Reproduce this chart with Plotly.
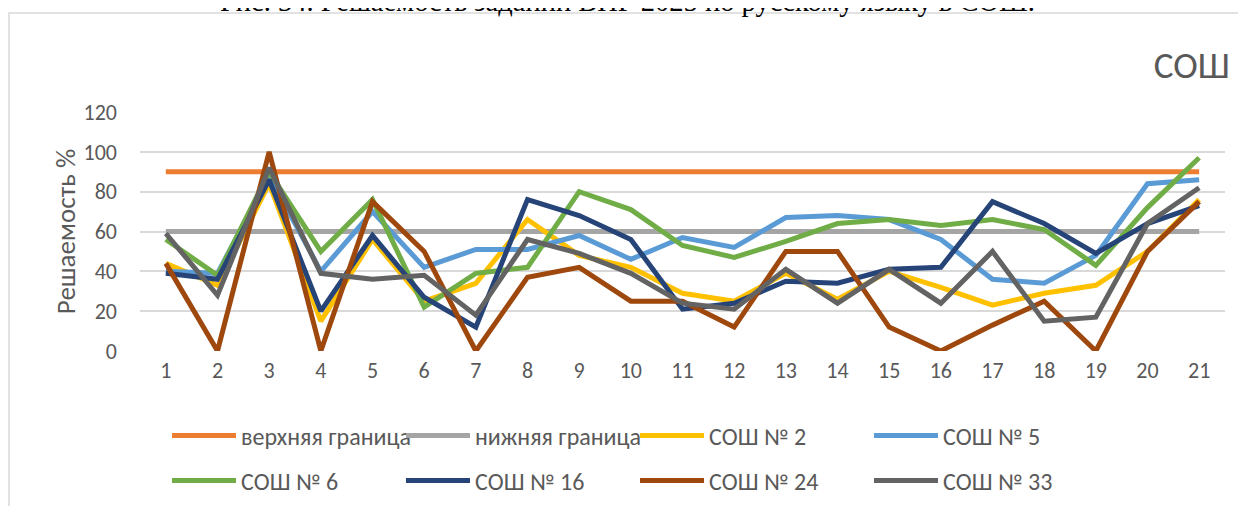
import plotly.graph_objects as go

tasks = [str(i) for i in range(1, 22)]

upper = [90, 90, 90, 90, 90, 90, 90, 90, 90, 90, 90, 90, 90, 90, 90, 90, 90, 90, 90, 90, 90]
lower = [60, 60, 60, 60, 60, 60, 60, 60, 60, 60, 60, 60, 60, 60, 60, 60, 60, 60, 60, 60, 60]
sosh2 = [44, 33, 84, 15, 56, 25, 34, 66, 48, 42, 29, 25, 39, 26, 40, 32, 23, 29, 33, 50, 76]
sosh5 = [40, 39, 88, 40, 70, 42, 51, 51, 58, 46, 57, 52, 67, 68, 66, 56, 36, 34, 48, 84, 86]
sosh6 = [56, 38, 90, 50, 76, 22, 39, 42, 80, 71, 53, 47, 55, 64, 66, 63, 66, 61, 43, 72, 97]
sosh16 = [39, 36, 86, 20, 58, 27, 12, 76, 68, 56, 21, 24, 35, 34, 41, 42, 75, 64, 49, 64, 73]
sosh24 = [44, 0, 100, 0, 75, 50, 0, 37, 42, 25, 25, 12, 50, 50, 12, 0, 13, 25, 0, 50, 75]
sosh33 = [59, 28, 92, 39, 36, 38, 18, 56, 49, 39, 24, 21, 41, 24, 41, 24, 50, 15, 17, 64, 82]

series = [
    ("верхняя граница", upper, "#ED7D31", "legend"),
    ("нижняя граница", lower, "#A5A5A5", "legend"),
    ("СОШ № 2", sosh2, "#FFC000", "legend"),
    ("СОШ № 5", sosh5, "#5B9BD5", "legend"),
    ("СОШ № 6", sosh6, "#70AD47", "legend2"),
    ("СОШ № 16", sosh16, "#264478", "legend2"),
    ("СОШ № 24", sosh24, "#9E480E", "legend2"),
    ("СОШ № 33", sosh33, "#636363", "legend2"),
]

FONT = "Carlito, 'Liberation Sans Narrow', 'Open Sans', sans-serif"
GREY = "#595959"

fig = go.Figure()
for name, vals, color, leg in series:
    fig.add_trace(go.Scatter(
        x=tasks, y=vals, name=name, mode="lines",
        line=dict(color=color, width=5),
        legend=leg,
    ))

# page has an 8px body margin: figure pixel = screen pixel - 8
OFF = 8
W, H = 1246 - OFF, 506 - OFF
L, T = 140 - OFF, 112 - OFF
R = W - (1225 - OFF)
B = H - (351 - OFF)
pw = W - L - R
ph = H - T - B

def sx(px):
    return (px - OFF - L) / pw

def sy(py):
    return (H - B - (py - OFF)) / ph

legend_common = dict(
    orientation="h", xanchor="left", yanchor="middle",
    font=dict(family=FONT, size=24, color=GREY),
    entrywidth=155, entrywidthmode="pixels",
    itemwidth=64, bgcolor="rgba(0,0,0,0)",
)

fig.update_layout(
    width=W, height=H,
    margin=dict(l=L, r=R, t=T, b=B, autoexpand=False),
    paper_bgcolor="white", plot_bgcolor="white",
    font=dict(family=FONT, size=22, color=GREY),
    title=dict(text="СОШ", x=(1227 - OFF + 3) / W, xanchor="right",
               y=1 - (67 - OFF - 2) / H, yanchor="middle",
               font=dict(family=FONT, size=37, color=GREY)),
    showlegend=True,
    legend=dict(x=sx(167), y=sy(436), **legend_common),
    legend2=dict(x=sx(167), y=sy(481), **legend_common),
    xaxis=dict(
        type="category", range=[-0.5, 20.5],
        showgrid=False, zeroline=False, showline=False, ticks="",
        tickfont=dict(family=FONT, size=22, color=GREY),
        ticklabelstandoff=4,
    ),
    yaxis=dict(
        range=[0, 120], dtick=20, tick0=0,
        showgrid=True, gridcolor="#D9D9D9", gridwidth=1.5,
        zeroline=False, showline=False, ticks="",
        tickfont=dict(family=FONT, size=22, color=GREY),
        ticklabelstandoff=22,
        title=dict(text="Решаемость %", standoff=0,
                   font=dict(family=FONT, size=27, color=GREY)),
    ),
    shapes=[dict(
        type="rect", xref="paper", yref="paper",
        x0=sx(9), x1=sx(1270), y0=sy(530), y1=sy(13),
        line=dict(color="#D9D9D9", width=1.5), fillcolor="rgba(0,0,0,0)",
        layer="below",
    )],
    annotations=[dict(
        text="Рис. 34. Решаемость заданий ВПР 2025 по русскому языку в СОШ.",
        xref="paper", yref="paper", x=sx(627), y=sy(19),
        xanchor="center", yanchor="bottom", showarrow=False,
        font=dict(family="'Liberation Serif', 'Times New Roman', serif", size=28.5, color="black"),
    )],
)

fig.write_html("out.html")
